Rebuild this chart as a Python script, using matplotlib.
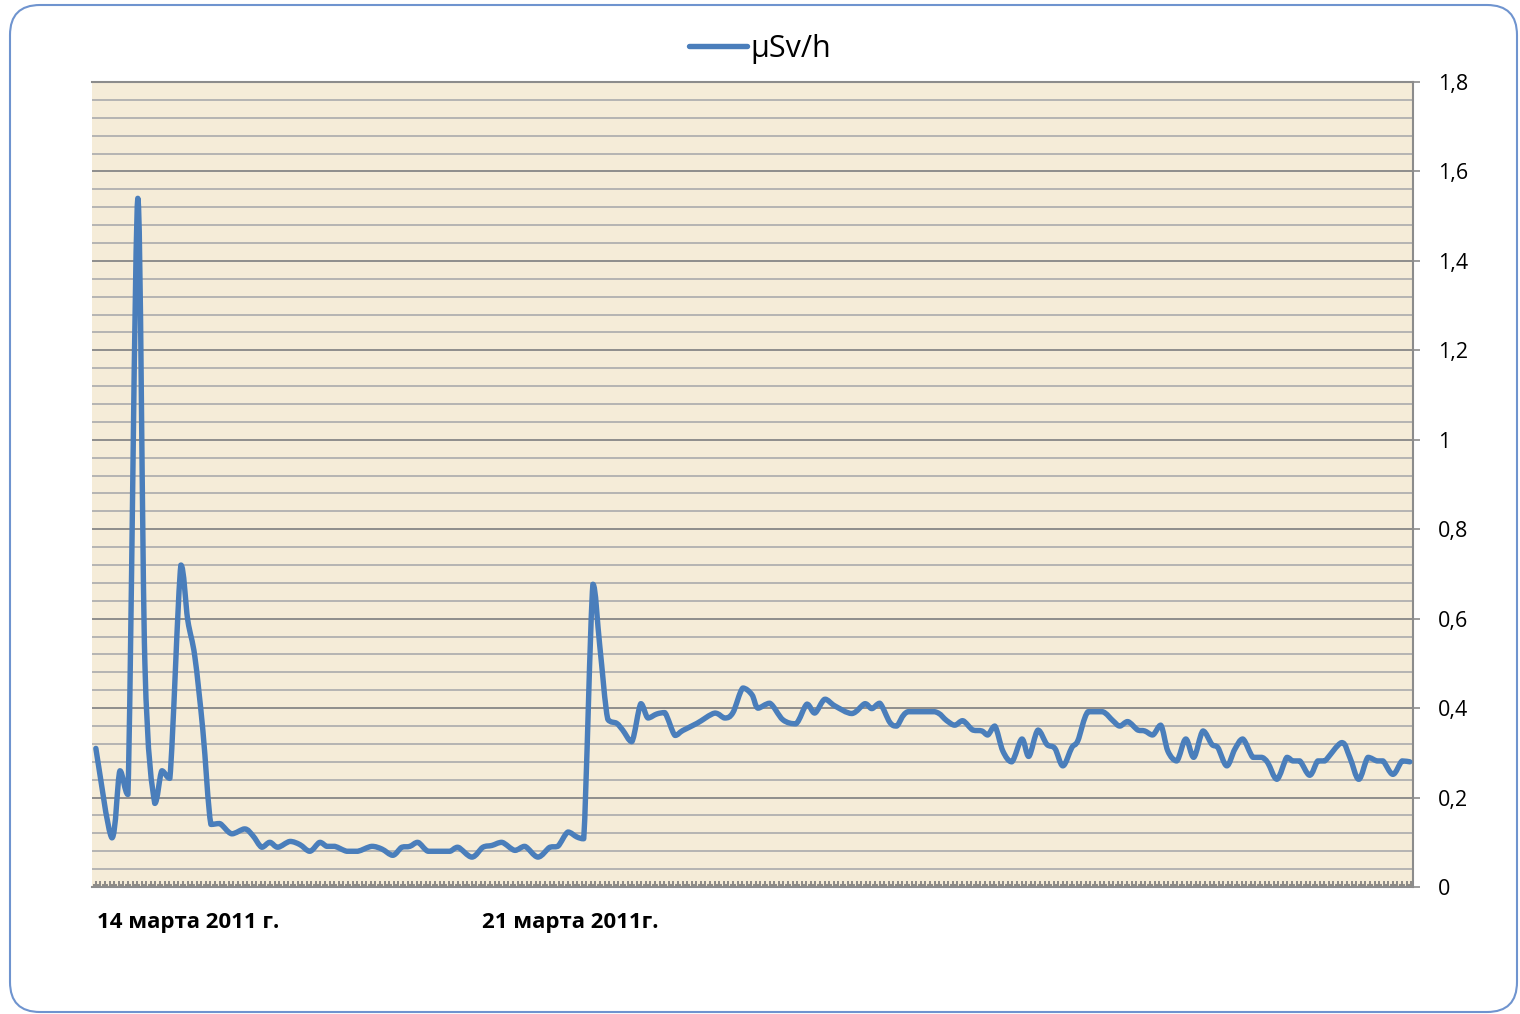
import matplotlib.pyplot as plt
import numpy as np
from matplotlib.patches import FancyBboxPatch, PathPatch
from matplotlib.path import Path
from matplotlib.lines import Line2D
from matplotlib.transforms import IdentityTransform
from matplotlib.ticker import MultipleLocator, FuncFormatter

plt.rcParams['font.family'] = ['Open Sans', 'DejaVu Sans']

# hours since 14 March 2011 00:00 and dose rate
hours = [0, 7, 10.5, 14, 18.3, 21.4, 25.7, 28.8, 32.3, 37.1, 40.1, 43.2, 46.7,
         50.2, 54.1, 59.3, 65, 68.5, 72.4, 75.9, 79.4, 84.7, 89, 93.4, 97.7,
         100.8, 104.3, 109.5, 114.3, 120.4, 124.8, 129.6, 133.5, 137, 140.5,
         144.9, 150.1, 154.5, 158, 164.1, 168.9, 172.8, 177.2, 182.8, 187.2,
         192.9, 198.1, 201.6, 206, 209.9, 212.9, 216.9, 219.9, 223.4, 227.3,
         229.9, 233.9, 237.8, 240.9, 244.8, 248.3, 252.7, 256.1, 262.3, 270.1,
         274.5, 278, 282.3, 286.3, 288.9, 294.1, 299.8, 305.5, 310.3, 313.7,
         318.1, 322.5, 329.9, 335.6, 338.6, 342.1, 346.5, 349.5, 354.3, 366.1,
         371.3, 374.8, 378.3, 382.7, 386.6, 389.2, 392.3, 395.8, 399.7, 404.1,
         407.1, 411.1, 415, 418.5, 422, 425.9, 428.5, 432.9, 439.4, 443.8,
         446.8, 450.3, 454.7, 457.7, 461.2, 464.7, 467.8, 471.7, 475.6, 479.1,
         483.1, 487, 489.6, 493.5, 497, 500.5, 504.9, 508.8, 511.4, 515.4,
         519.7, 522.3, 525.4, 529.7, 533.2, 536.3, 543.7, 547.2, 551.1, 555.1,
         559, 561.7, 566, 570, 573.4]
usv = [0.31, 0.11, 0.26, 0.207, 1.54, 0.50, 0.187, 0.26, 0.243, 0.72, 0.597,
       0.515, 0.35, 0.14, 0.142, 0.119, 0.130, 0.115, 0.089, 0.10, 0.089,
       0.102, 0.095, 0.08, 0.10, 0.091, 0.091, 0.08, 0.08, 0.091, 0.085,
       0.071, 0.089, 0.091, 0.10, 0.08, 0.08, 0.08, 0.089, 0.067, 0.089,
       0.093, 0.10, 0.082, 0.091, 0.067, 0.089, 0.091, 0.123, 0.112, 0.108,
       0.677, 0.539, 0.375, 0.366, 0.351, 0.325, 0.41, 0.378, 0.387, 0.39,
       0.339, 0.35, 0.366, 0.389, 0.378, 0.39, 0.445, 0.43, 0.40, 0.411,
       0.374, 0.365, 0.409, 0.389, 0.42, 0.405, 0.388, 0.41, 0.399, 0.411,
       0.368, 0.36, 0.392, 0.392, 0.372, 0.362, 0.372, 0.351, 0.349, 0.34,
       0.36, 0.304, 0.28, 0.331, 0.292, 0.351, 0.319, 0.31, 0.271, 0.312,
       0.327, 0.392, 0.392, 0.372, 0.36, 0.37, 0.351, 0.349, 0.34, 0.362,
       0.304, 0.282, 0.331, 0.29, 0.349, 0.319, 0.312, 0.271, 0.308, 0.331,
       0.29, 0.29, 0.278, 0.241, 0.29, 0.282, 0.282, 0.25, 0.282, 0.282,
       0.323, 0.29, 0.241, 0.29, 0.282, 0.282, 0.252, 0.282, 0.28]

date_labels = ['14 марта 2011 г.', '21 марта 2011г.']
date_hours = [0.4, 168.4]

LINE_COLOR = '#4a7ebb'

fig = plt.figure(figsize=(15.2, 10.14), dpi=100)

# rounded chart-area border
border = FancyBboxPatch((10, 2), 1507, 1007,
                        boxstyle='round,pad=0,rounding_size=30',
                        transform=IdentityTransform(), facecolor='none',
                        edgecolor='#6f94cf', linewidth=1.5, zorder=10)
fig.patches.append(border)

ax = fig.add_axes([0.0605, 0.1252, 0.869, 0.7939])
ax.set_facecolor('#f5ecd8')

# smoothed line (bezier through the points, control points kept inside
# each segment's value range so there is no overshoot)
pts = np.column_stack([hours, usv])
verts = [pts[0]]
codes = [Path.MOVETO]
for i in range(len(pts) - 1):
    p0 = pts[max(i - 1, 0)]
    p1 = pts[i]
    p2 = pts[i + 1]
    p3 = pts[min(i + 2, len(pts) - 1)]
    c1 = p1 + (p2 - p0) / 6
    c2 = p2 - (p3 - p1) / 6
    lo, hi = min(p1[1], p2[1]), max(p1[1], p2[1])
    c1[1] = np.clip(c1[1], lo, hi)
    c2[1] = np.clip(c2[1], lo, hi)
    verts += [c1, c2, p2]
    codes += [Path.CURVE4] * 3
ax.add_patch(PathPatch(Path(verts, codes), facecolor='none',
                       edgecolor=LINE_COLOR, linewidth=3.9,
                       joinstyle='round', capstyle='round', zorder=3))

ax.set_xlim(-1.7, 574.7)
ax.set_ylim(0, 1.8)

# y axis on the right, comma decimals
ax.yaxis.tick_right()
ax.yaxis.set_major_locator(MultipleLocator(0.2))
ax.yaxis.set_minor_locator(MultipleLocator(0.04))
ax.yaxis.set_major_formatter(
    FuncFormatter(lambda v, p: f'{v:.1f}'.rstrip('0').rstrip('.').replace('.', ',')))
ax.tick_params(axis='y', which='major', length=5, width=1.2, color='#8c8c8c',
               labelsize=15.5, pad=13, direction='out')
ax.tick_params(axis='y', which='minor', length=0)

ax.grid(which='major', axis='y', color='#878787', linewidth=1.3)
ax.grid(which='minor', axis='y', color='#b0b0b0', linewidth=1.3)
ax.set_axisbelow(True)

# hourly ticks on the category axis
ax.xaxis.set_major_locator(MultipleLocator(2))
ax.xaxis.set_minor_locator(MultipleLocator(1))
ax.xaxis.set_major_formatter(FuncFormatter(lambda v, p: ''))
ax.tick_params(axis='x', which='major', direction='in', length=4.5, width=1.1,
               color='#707070')
ax.tick_params(axis='x', which='minor', direction='in', length=2.5, width=1.1,
               color='#707070')

for s in ['bottom', 'right', 'top']:
    ax.spines[s].set_color('#8c8c8c')
    ax.spines[s].set_linewidth(1.5)
ax.spines['left'].set_visible(False)

for lbl, h in zip(date_labels, date_hours):
    ax.text(h, -0.08, lbl, ha='left', va='center', fontsize=16,
            fontweight='bold')

handle = Line2D([], [], color=LINE_COLOR, linewidth=3.9, solid_capstyle='round')
fig.legend(handles=[handle], labels=['µSv/h'], loc='center',
           bbox_to_anchor=(0.500, 0.952), frameon=False, fontsize=22,
           handlelength=1.9, handletextpad=0.1)

plt.savefig('out.png', dpi=100, facecolor='white')
plt.close()
